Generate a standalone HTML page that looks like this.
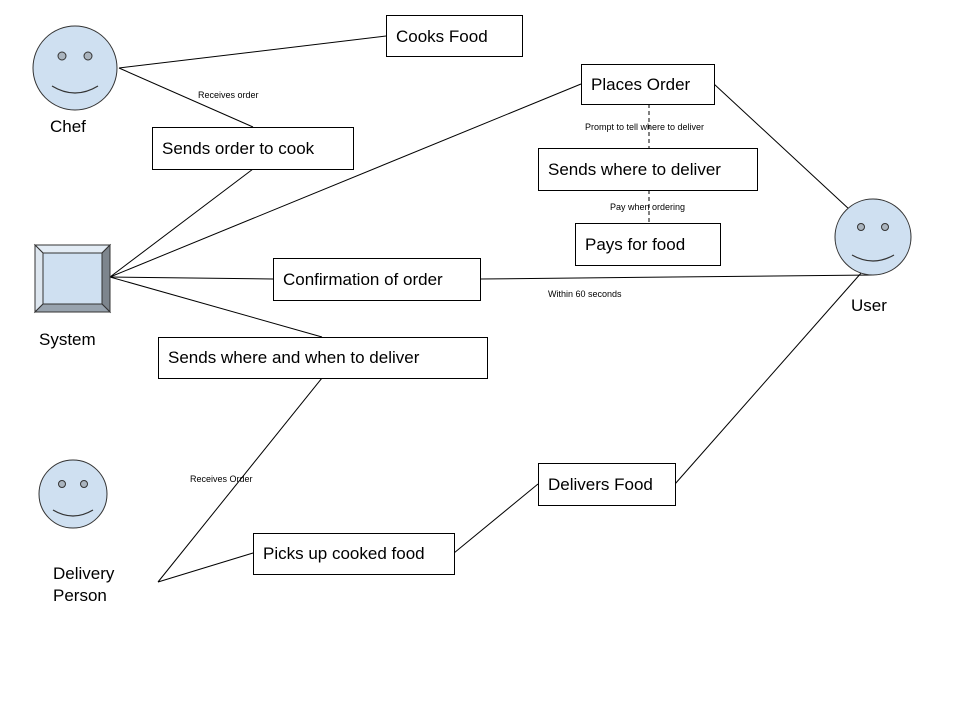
<!DOCTYPE html>
<html><head><style>body{margin:0;background:#fff}svg{display:block}text{font-family:"Liberation Sans",Arial,sans-serif;fill:#000}</style></head><body>
<svg width="960" height="720" xmlns="http://www.w3.org/2000/svg">
<g stroke="#000" stroke-width="1" fill="none">
<line x1="119" y1="68" x2="386" y2="36"/>
<line x1="119" y1="68" x2="253" y2="127"/>
<line x1="110" y1="277" x2="253" y2="169"/>
<line x1="110" y1="277" x2="581" y2="84"/>
<line x1="110" y1="277" x2="273" y2="279"/>
<line x1="110" y1="277" x2="322" y2="337"/>
<line x1="714" y1="84" x2="850" y2="210"/>
<line x1="480" y1="279" x2="873" y2="275"/>
<line x1="322" y1="378" x2="158" y2="582"/>
<line x1="158" y1="582" x2="253" y2="553"/>
<line x1="454" y1="553" x2="538" y2="484"/>
<line x1="675" y1="484" x2="862" y2="272"/>
<line x1="649" y1="104" x2="649" y2="148" stroke-dasharray="4,3"/>
<line x1="649" y1="190" x2="649" y2="223" stroke-dasharray="4,3"/>
</g>
<g stroke="#000" fill="#fff">
<rect x="386.5" y="15.5" width="136" height="41"/>
<rect x="152.5" y="127.5" width="201" height="42"/>
<rect x="581.5" y="64.5" width="133" height="40"/>
<rect x="538.5" y="148.5" width="219" height="42"/>
<rect x="575.5" y="223.5" width="145" height="42"/>
<rect x="273.5" y="258.5" width="207" height="42"/>
<rect x="158.5" y="337.5" width="329" height="41"/>
<rect x="538.5" y="463.5" width="137" height="42"/>
<rect x="253.5" y="533.5" width="201" height="41"/>
</g>
<!-- faces -->
<g stroke="#333" fill="#cfe0f1">
<circle cx="75" cy="68" r="42"/>
<circle cx="873" cy="237" r="38"/>
<circle cx="73" cy="494" r="34"/>
</g>
<g stroke="#333" fill="#aab4be">
<circle cx="62" cy="56" r="4"/><circle cx="88" cy="56" r="4"/>
<circle cx="861" cy="227" r="3.5"/><circle cx="885" cy="227" r="3.5"/>
<circle cx="62" cy="484" r="3.5"/><circle cx="84" cy="484" r="3.5"/>
</g>
<g stroke="#333" fill="none" stroke-width="1.2">
<path d="M52 86 Q75 100 98 86"/>
<path d="M852 255 Q873 267 894 255"/>
<path d="M53 510 Q73 522 93 510"/>
</g>
<!-- system -->
<polygon points="35,245 110,245 102,253 43,253" fill="#e3ecf5" stroke="#333"/>
<polygon points="35,245 43,253 43,304 35,312" fill="#dde6ef" stroke="#333"/>
<polygon points="110,245 110,312 102,304 102,253" fill="#7d858d" stroke="#333"/>
<polygon points="35,312 110,312 102,304 43,304" fill="#98a3ae" stroke="#333"/>
<rect x="43" y="253" width="59" height="51" fill="#cfe0f1" stroke="#333"/>
<g font-size="17">
<text x="396" y="42">Cooks Food</text>
<text x="162" y="154">Sends order to cook</text>
<text x="591" y="90">Places Order</text>
<text x="548" y="175">Sends where to deliver</text>
<text x="585" y="250">Pays for food</text>
<text x="283" y="285">Confirmation of order</text>
<text x="168" y="363">Sends where and when to deliver</text>
<text x="548" y="490">Delivers Food</text>
<text x="263" y="559">Picks up cooked food</text>
<text x="50" y="132">Chef</text>
<text x="39" y="345">System</text>
<text x="851" y="311">User</text>
<text x="53" y="579">Delivery</text>
<text x="53" y="601">Person</text>
</g>
<g font-size="9">
<text x="198" y="98">Receives order</text>
<text x="585" y="130">Prompt to tell where to deliver</text>
<text x="610" y="210">Pay when ordering</text>
<text x="548" y="297">Within 60 seconds</text>
<text x="190" y="482">Receives Order</text>
</g>
</svg>
</body></html>
